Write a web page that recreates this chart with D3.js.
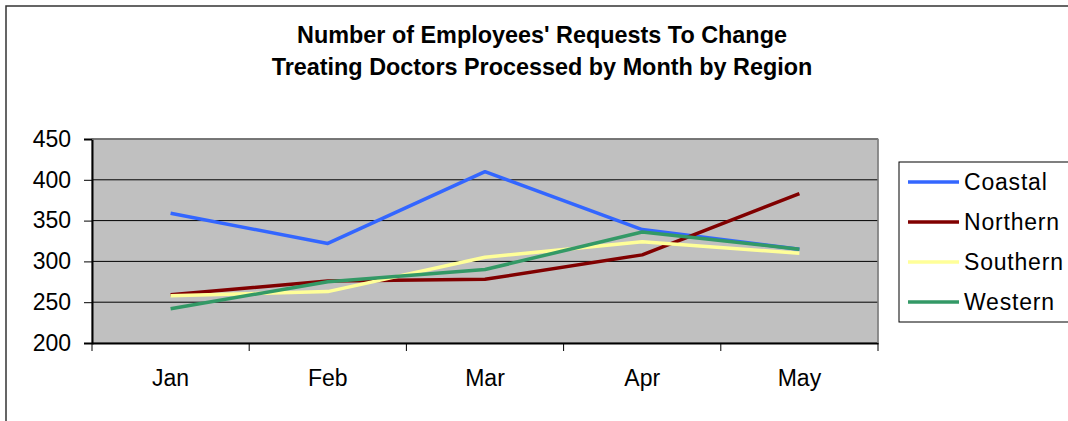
<!DOCTYPE html>
<html>
<head>
<meta charset="utf-8">
<script src="https://cdn.jsdelivr.net/npm/d3@7"></script>
<style>
    body { margin: 0; background: #fff; }
    svg { display: block; font-family: "Liberation Sans", Arial, sans-serif; }
</style>
</head>
<body>
<div id="chart"></div>
<script>
// Data
const months = ["Jan", "Feb", "Mar", "Apr", "May"];
const regions = ["Coastal", "Northern", "Southern", "Western"];
const coastal = [359, 322, 410, 339, 315];
const northern = [259, 276, 278, 308, 383];
const southern = [258, 263, 305, 324, 310];
const western = [242, 275, 290, 336, 315];
const yTicks = [200, 250, 300, 350, 400, 450];
const colors = ["#3366FF", "#800000", "#FFFF99", "#339966"];

const seriesList = [coastal, northern, southern, western];

const W = 1068, H = 421;
const plot = { left: 92, top: 139, right: 878, bottom: 343 };
const fontFam = "Liberation Sans, Arial, sans-serif";

const svg = d3.select("#chart")
    .append("svg")
    .attr("width", W)
    .attr("height", H);

// outer chart border
svg.append("rect")
    .attr("x", 6).attr("y", 6)
    .attr("width", W + 20).attr("height", H + 20)
    .attr("fill", "#fff")
    .attr("stroke", "#333")
    .attr("stroke-width", 1.5);

// title
const title = svg.append("text")
    .attr("text-anchor", "middle")
    .attr("font-weight", "bold")
    .attr("font-size", 23.4)
    .attr("fill", "#000");
title.append("tspan").attr("x", 542).attr("y", 43).text("Number of Employees' Requests To Change");
title.append("tspan").attr("x", 542).attr("y", 75).text("Treating Doctors Processed by Month by Region");

const x = d3.scaleBand()
    .domain(months)
    .range([plot.left, plot.right]);

const y = d3.scaleLinear()
    .domain([200, 450])
    .range([plot.bottom, plot.top]);

// plot background
svg.append("rect")
    .attr("x", plot.left).attr("y", plot.top)
    .attr("width", plot.right - plot.left)
    .attr("height", plot.bottom - plot.top)
    .attr("fill", "#C0C0C0")
    .attr("stroke", "#808080")
    .attr("stroke-width", 1);

// gridlines
svg.append("g")
    .selectAll("line")
    .data(yTicks.slice(1))
    .enter()
    .append("line")
    .attr("x1", plot.left).attr("x2", plot.right)
    .attr("y1", d => y(d)).attr("y2", d => y(d))
    .attr("stroke", "#000")
    .attr("stroke-width", 1);

// y axis
const yAxis = svg.append("g")
    .attr("transform", `translate(${plot.left},0)`)
    .call(d3.axisLeft(y).tickValues(yTicks).tickSize(8).tickPadding(13));
yAxis.select(".domain").attr("stroke", "#000").attr("stroke-width", 2);
yAxis.selectAll(".tick line").attr("stroke", "#000");
yAxis.selectAll("text").attr("font-size", 23).attr("fill", "#000")
    .attr("font-family", fontFam);

// x axis (ticks between categories)
const xAxis = svg.append("g")
    .attr("transform", `translate(0,${plot.bottom})`)
    .call(d3.axisBottom(x).tickSize(0).tickPadding(27));
xAxis.select(".domain").attr("stroke", "#000").attr("stroke-width", 2);
xAxis.selectAll("text").attr("font-size", 23).attr("fill", "#000")
    .attr("font-family", fontFam);
xAxis.selectAll(".sep")
    .data(months.concat(["end"]))
    .enter()
    .append("line")
    .attr("x1", (d, i) => i < months.length ? x(d) : x(months[months.length - 1]) + x.bandwidth())
    .attr("x2", (d, i) => i < months.length ? x(d) : x(months[months.length - 1]) + x.bandwidth())
    .attr("y1", 0).attr("y2", 8)
    .attr("stroke", "#000");

// top and right border of plot
svg.append("line")
    .attr("x1", plot.right).attr("x2", plot.right)
    .attr("y1", plot.top).attr("y2", plot.bottom)
    .attr("stroke", "#808080").attr("stroke-width", 1.5);
svg.append("line")
    .attr("x1", plot.left).attr("x2", plot.right)
    .attr("y1", plot.top).attr("y2", plot.top)
    .attr("stroke", "#808080").attr("stroke-width", 1.5);

// lines
const line = d3.line()
    .x((d, i) => x(months[i]) + x.bandwidth() / 2)
    .y(d => y(d));

svg.append("g")
    .selectAll("path")
    .data(seriesList)
    .enter()
    .append("path")
    .attr("d", d => line(d))
    .attr("fill", "none")
    .attr("stroke", (d, i) => colors[i])
    .attr("stroke-width", 3.5)
    .attr("stroke-linejoin", "round");

// legend
const legend = svg.append("g");
legend.append("rect")
    .attr("x", 899).attr("y", 162)
    .attr("width", 175).attr("height", 160)
    .attr("fill", "#fff")
    .attr("stroke", "#000")
    .attr("stroke-width", 1);

const items = legend.selectAll(".item")
    .data(regions)
    .enter()
    .append("g")
    .attr("transform", (d, i) => `translate(0,${182 + i * 40})`);

items.append("line")
    .attr("x1", 908).attr("x2", 959)
    .attr("y1", 0).attr("y2", 0)
    .attr("stroke", (d, i) => colors[i])
    .attr("stroke-width", 3.5);

items.append("text")
    .attr("x", 964)
    .attr("y", 8)
    .attr("font-size", 23)
    .attr("letter-spacing", 0.8)
    .attr("fill", "#000")
    .text(d => d);
</script>
</body>
</html>
